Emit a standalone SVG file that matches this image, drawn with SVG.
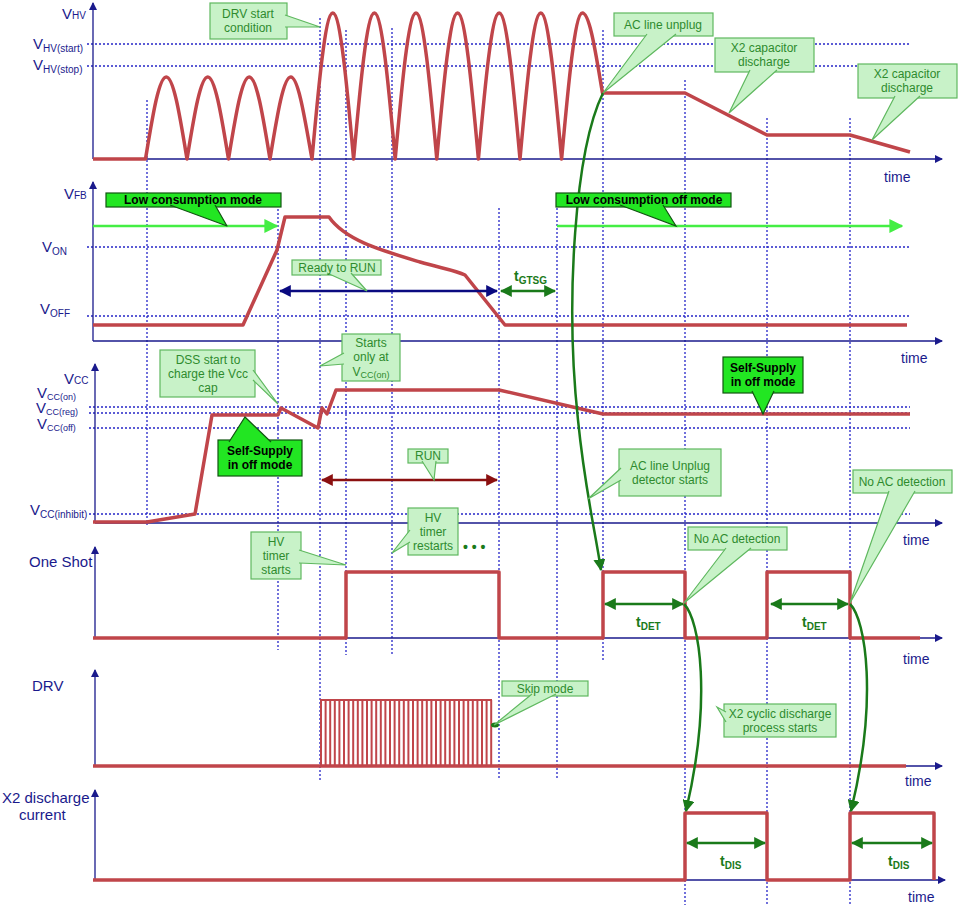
<svg xmlns="http://www.w3.org/2000/svg" width="958" height="905" viewBox="0 0 958 905">
<style>
text{font-family:"Liberation Sans",Arial,sans-serif}
.ax{stroke:#1a1a8c;stroke-width:1.3;fill:none}
.dot{stroke:#2626c8;stroke-width:1.3;stroke-dasharray:2,2;fill:none}
.w{stroke:#c0454a;stroke-width:3.5;fill:none;stroke-linejoin:round}
.lbl{fill:#1a1a8c;font-size:15px}
.sub{font-size:10px}
.tm{fill:#1a1a8c;font-size:14px}
.lc{fill:#c8f2c8;stroke:#5fb85f;stroke-width:1.2}
.lt{fill:#2e8b2e;font-size:12px;text-anchor:middle}
.bc{fill:#22e622;stroke:#115511;stroke-width:1.2}
.bt{fill:#000;font-size:12px;font-weight:bold;text-anchor:middle}
.gr{stroke:#1a7a1a;stroke-width:2.5;fill:none}
</style>
<defs>
<marker id="an" markerWidth="8" markerHeight="8" refX="7" refY="4" orient="auto" markerUnits="userSpaceOnUse"><path d="M0,0 L8,4 L0,8 z" fill="#1a1a8c"/></marker>
<marker id="ag" viewBox="0 0 10 10" markerWidth="12" markerHeight="12" refX="9" refY="5" orient="auto-start-reverse" markerUnits="userSpaceOnUse"><path d="M0,0 L10,5 L0,10 z" fill="#1a7a1a"/></marker>
<marker id="alg" viewBox="0 0 10 10" markerWidth="14" markerHeight="14" refX="9" refY="5" orient="auto" markerUnits="userSpaceOnUse"><path d="M0,0 L10,5 L0,10 z" fill="#44ee44"/></marker>
<marker id="anv" viewBox="0 0 10 10" markerWidth="12" markerHeight="12" refX="9" refY="5" orient="auto-start-reverse" markerUnits="userSpaceOnUse"><path d="M0,0 L10,5 L0,10 z" fill="#0a0a80"/></marker>
<marker id="ard" viewBox="0 0 10 10" markerWidth="12" markerHeight="12" refX="9" refY="5" orient="auto-start-reverse" markerUnits="userSpaceOnUse"><path d="M0,0 L10,5 L0,10 z" fill="#8b1010"/></marker>
</defs>

<g id="grid">
<path class="dot" d="M87,44 H910 M87,66 H910 M87,247 H910 M87,316 H910 M89,407 H910 M89,413 H910 M89,428 H910 M89,514 H910"/>
<path class="dot" d="M147,100 V525 M278,205 V650 M320,18 V780 M346,30 V655 M392,28 V655 M499,208 V780 M557,208 V780 M603,30 V660 M685,80 V905 M767,118 V905 M850,118 V905"/>
</g>

<g id="axes">
<path class="ax" d="M93,159 V3" marker-end="url(#an)"/><path class="ax" d="M93,159 H942" marker-end="url(#an)"/>
<path class="ax" d="M93,341 V182" marker-end="url(#an)"/><path class="ax" d="M93,341 H942" marker-end="url(#an)"/>
<path class="ax" d="M95,523 V364" marker-end="url(#an)"/><path class="ax" d="M95,523 H942" marker-end="url(#an)"/>
<path class="ax" d="M95,638 V547" marker-end="url(#an)"/><path class="ax" d="M95,638 H942" marker-end="url(#an)"/>
<path class="ax" d="M95,766 V670" marker-end="url(#an)"/><path class="ax" d="M95,766 H942" marker-end="url(#an)"/>
<path class="ax" d="M95,880 V790" marker-end="url(#an)"/><path class="ax" d="M95,880 H945" marker-end="url(#an)"/>
<text class="tm" x="884" y="182">time</text>
<text class="tm" x="901" y="363">time</text>
<text class="tm" x="903" y="545">time</text>
<text class="tm" x="903" y="664">time</text>
<text class="tm" x="905" y="786">time</text>
<text class="tm" x="908" y="902">time</text>
</g>

<g id="labels">
<text class="lbl" x="62" y="19">V<tspan class="sub" font-size="12">HV</tspan></text>
<text class="lbl" x="33" y="49">V<tspan class="sub" dy="3">HV(start)</tspan></text>
<text class="lbl" x="33" y="70">V<tspan class="sub" dy="3">HV(stop)</tspan></text>
<text class="lbl" x="64" y="199">V<tspan class="sub" font-size="12">FB</tspan></text>
<text class="lbl" x="42" y="252">V<tspan class="sub" font-size="11" dy="3">ON</tspan></text>
<text class="lbl" x="40" y="314">V<tspan class="sub" font-size="11" dy="3">OFF</tspan></text>
<text class="lbl" x="64" y="384">V<tspan class="sub" font-size="12">CC</tspan></text>
<text class="lbl" x="37" y="398" font-size="12">V<tspan font-size="9" dy="2">CC(on)</tspan></text>
<text class="lbl" x="36" y="413" font-size="12">V<tspan font-size="9" dy="2">CC(reg)</tspan></text>
<text class="lbl" x="37" y="429" font-size="12">V<tspan font-size="9" dy="2">CC(off)</tspan></text>
<text class="lbl" x="30" y="515">V<tspan class="sub" dy="3">CC(inhibit)</tspan></text>
<text class="lbl" x="29" y="567">One Shot</text>
<text class="lbl" x="32" y="691">DRV</text>
<text class="lbl" x="2" y="803">X2 discharge</text>
<text class="lbl" x="19" y="820">current</text>
</g>

<g id="waves">
<path class="w" d="M93,159 L145.5,159 C152.3,118 158.7,77 166.25,77 C173.8,77 180.2,118 187,159 C193.8,118 200.2,77 207.75,77 C215.3,77 221.7,118 228.5,159 C235.3,118 241.7,77 249.25,77 C256.8,77 263.2,118 270,159 C276.8,118 283.2,77 290.75,77 C298.3,77 304.7,118 312,159 C318.8,84 325.3,13 332.8,13 C340.3,13 346.8,84 353.6,159 C360.4,84 366.9,13 374.4,13 C381.9,13 388.4,84 395.2,159 C402,84 408.5,13 416,13 C423.5,13 430,84 436.8,159 C443.6,84 450.1,13 457.6,13 C465.1,13 471.6,84 478.4,159 C485.2,84 491.7,13 499.2,13 C506.7,13 513.2,84 520,159 C526.8,84 533.3,13 540.8,13 C548.3,13 554.8,84 561.6,159 C568.4,84 574.9,13 582.4,13 C589.9,13 596,55 602.5,93 L685,93 L767,135 L850,135 L910,152"/>
<path class="w" d="M93,325 L243,325 L277,250 L285,217 L329,217 C345,240 380,250 420,262 C440,268 455,270 465,275 L505,325 L907,325"/>
<path class="w" d="M93,522 L147,522 L195,514 L212,415 L278,415 L281,408 L318,428 L322,408 L327,414 L336,390 L499,390 L603,414 L910,414"/>
<path class="w" d="M93,638 L346,638 L346,572 L499,572 L499,638 L603,638 L603,572 L685,572 L685,638 L767,638 L767,572 L850,572 L850,638 L920,638"/>
<path class="w" d="M93,766 L906,766"/>
<path stroke="#c0454a" stroke-width="2" fill="none" d="M321,766V700M325.6,766V700M330.2,766V700M334.8,766V700M339.4,766V700M344,766V700M348.6,766V700M353.2,766V700M357.8,766V700M362.4,766V700M367,766V700M371.6,766V700M376.2,766V700M380.8,766V700M385.4,766V700M390,766V700M394.6,766V700M399.2,766V700M403.8,766V700M408.4,766V700M413,766V700M417.6,766V700M422.2,766V700M426.8,766V700M431.4,766V700M436,766V700M440.6,766V700M445.2,766V700M449.8,766V700M454.4,766V700M459,766V700M463.6,766V700M468.2,766V700M472.8,766V700M477.4,766V700M482,766V700M486.6,766V700M491.2,766V700 M320,700 H492"/>
<path class="w" d="M93,880 L685,880 L685,813 L767,813 L767,880 L850,880 L850,813 L934,813 L934,880"/>
</g>

<g id="connectors">
<path stroke="#44ee44" stroke-width="2.5" fill="none" d="M93,226 H277" marker-end="url(#alg)"/>
<path stroke="#44ee44" stroke-width="2.5" fill="none" d="M557,226 H902" marker-end="url(#alg)"/>
<path stroke="#0a0a80" stroke-width="2.5" fill="none" d="M280,291 H497" marker-start="url(#anv)" marker-end="url(#anv)"/>
<path class="gr" d="M501,291 H555" marker-start="url(#ag)" marker-end="url(#ag)"/>
<path stroke="#8b1010" stroke-width="2.5" fill="none" d="M322,480 H497" marker-start="url(#ard)" marker-end="url(#ard)"/>
<path class="gr" d="M605,604 H683" marker-start="url(#ag)" marker-end="url(#ag)"/>
<path class="gr" d="M771,604 H848" marker-start="url(#ag)" marker-end="url(#ag)"/>
<path class="gr" d="M687,843 H765" marker-start="url(#ag)" marker-end="url(#ag)"/>
<path class="gr" d="M852,843 H932" marker-start="url(#ag)" marker-end="url(#ag)"/>
<path class="gr" d="M603,93 C575,150 565,300 578,420 C585,490 595,530 601,570" marker-end="url(#ag)"/>
<path class="gr" d="M684,604 C700,620 712,700 686,811" marker-end="url(#ag)"/>
<path class="gr" d="M850,604 C866,620 878,700 851,811" marker-end="url(#ag)"/>
<text x="514" y="281" fill="#1a7a1a" font-size="14" font-weight="bold">t<tspan font-size="10" dy="3">GTSG</tspan></text>
<text x="636" y="627" fill="#1a7a1a" font-size="14" font-weight="bold">t<tspan font-size="10" dy="3">DET</tspan></text>
<text x="802" y="627" fill="#1a7a1a" font-size="14" font-weight="bold">t<tspan font-size="10" dy="3">DET</tspan></text>
<text x="720" y="866" fill="#1a7a1a" font-size="14" font-weight="bold">t<tspan font-size="10" dy="3">DIS</tspan></text>
<text x="888" y="866" fill="#1a7a1a" font-size="14" font-weight="bold">t<tspan font-size="10" dy="3">DIS</tspan></text>
<text x="463" y="552" fill="#1a7a1a" font-size="14" font-weight="bold">• • •</text>
<ellipse cx="495" cy="725" rx="4" ry="2.5" fill="#1a7a1a"/>
</g>

<g id="c-lcm"><rect class="bc" x="106" y="193" width="175" height="14"/><path class="bc" stroke-linejoin="round" d="M170,205 L227,226 L215,205"/><text class="bt" x="193" y="204">Low consumption mode</text></g>
<g id="c-lcom"><rect class="bc" x="556" y="193" width="175" height="14"/><path class="bc" d="M620,205 L676,226 L663,205"/><text class="bt" x="644" y="204">Low consumption off mode</text></g>
<g id="c-drv"><rect class="lc" x="210" y="3" width="77" height="36"/><path class="lc" d="M285,15 L320,27 L285,27"/><text class="lt" x="248" y="18">DRV start</text><text class="lt" x="248" y="32">condition</text></g>
<g id="c-acu"><rect class="lc" x="614" y="13" width="99" height="23"/><path class="lc" d="M647,34 L603,93 L676,34"/><text class="lt" x="663" y="29">AC line unplug</text></g>
<g id="c-x2a"><rect class="lc" x="715" y="38" width="99" height="34"/><path class="lc" d="M750,70 L729,113 L777,70"/><text class="lt" x="764" y="52">X2 capacitor</text><text class="lt" x="764" y="66">discharge</text></g>
<g id="c-x2b"><rect class="lc" x="858" y="64" width="99" height="34"/><path class="lc" d="M895,96 L872,140 L920,96"/><text class="lt" x="907" y="78">X2 capacitor</text><text class="lt" x="907" y="92">discharge</text></g>
<g id="c-rtr"><rect class="lc" x="292" y="260" width="89" height="15"/><path class="lc" d="M327,273 L367,291 L351,273"/><text class="lt" x="337" y="272">Ready to RUN</text></g>
<g id="c-dss"><rect class="lc" x="160" y="350" width="95" height="47"/><path class="lc" d="M253,380 L278,404 L253,370"/><text class="lt" x="208" y="364">DSS start to</text><text class="lt" x="208" y="378">charge the Vcc</text><text class="lt" x="208" y="392">cap</text></g>
<g id="c-son"><rect class="lc" x="342" y="334" width="58" height="47"/><path class="lc" d="M344,353 L320,366 L344,364"/><text class="lt" x="371" y="347">Starts</text><text class="lt" x="371" y="361">only at</text><text class="lt" x="371" y="376">V<tspan font-size="9" dy="2">CC(on)</tspan></text></g>
<g id="c-ss1"><rect class="bc" x="218" y="440" width="84" height="36"/><path class="bc" d="M229,442 L245,417 L271,442"/><text class="bt" x="260" y="455">Self-Supply</text><text class="bt" x="260" y="469">in off  mode</text></g>
<g id="c-ss2"><rect class="bc" x="723" y="357" width="80" height="36"/><path class="bc" d="M752,391 L763,414 L774,391"/><text class="bt" x="763" y="372">Self-Supply</text><text class="bt" x="763" y="386">in off  mode</text></g>
<g id="c-run"><rect class="lc" x="408" y="449" width="40" height="14"/><path class="lc" d="M422,461 L434,480 L436,461"/><text class="lt" x="428" y="460">RUN</text></g>
<g id="c-acd"><rect class="lc" x="619" y="449" width="102" height="47"/><path class="lc" d="M621,468 L588,499 L621,480"/><text class="lt" x="670" y="470">AC line Unplug</text><text class="lt" x="670" y="484">detector starts</text></g>
<g id="c-hvs"><rect class="lc" x="251" y="532" width="50" height="47"/><path class="lc" d="M299,550 L346,565 L299,563"/><text class="lt" x="276" y="546">HV</text><text class="lt" x="276" y="560">timer</text><text class="lt" x="276" y="574">starts</text></g>
<g id="c-hvr"><rect class="lc" x="408" y="508" width="50" height="47"/><path class="lc" d="M410,530 L392,553 L410,542"/><text class="lt" x="433" y="522">HV</text><text class="lt" x="433" y="536">timer</text><text class="lt" x="433" y="550">restarts</text></g>
<g id="c-nac1"><rect class="lc" x="688" y="527" width="99" height="23"/><path class="lc" d="M726,548 L684,603 L751,548"/><text class="lt" x="737" y="543">No AC detection</text></g>
<g id="c-nac2"><rect class="lc" x="853" y="470" width="99" height="23"/><path class="lc" d="M889,491 L850,603 L915,491"/><text class="lt" x="902" y="486">No AC detection</text></g>
<g id="c-skip"><rect class="lc" x="502" y="681" width="86" height="15"/><path class="lc" d="M532,694 L494,725 L556,694"/><text class="lt" x="545" y="693">Skip mode</text></g>
<g id="c-x2c"><rect class="lc" x="724" y="704" width="112" height="33"/><path class="lc" d="M726,712 L717,707 L726,722"/><text class="lt" x="780" y="718">X2 cyclic discharge</text><text class="lt" x="780" y="732">process starts</text></g>
</svg>
